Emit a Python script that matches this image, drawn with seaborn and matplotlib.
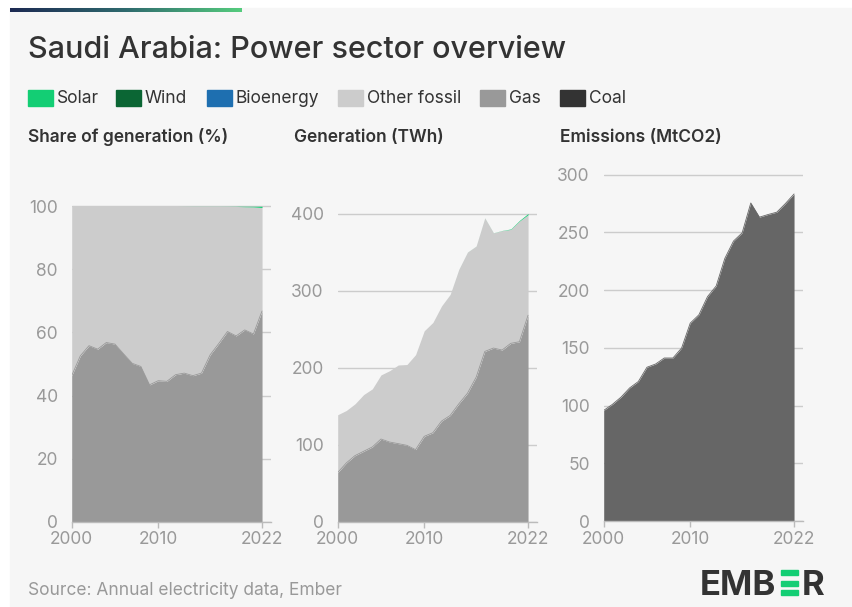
# Saudi Arabia power sector overview - three small area charts
import numpy as np
import pandas as pd
import matplotlib.pyplot as plt
import seaborn as sns
from matplotlib.patches import Rectangle
from matplotlib.colors import LinearSegmentedColormap

# Data
years = list(range(2000, 2023))

gas_share = [46.3, 52.6, 55.8, 54.7, 56.8, 56.3, 53.2, 50.2, 49.2, 43.4, 44.7, 44.5,
             46.6, 47.1, 46.3, 47.1, 52.9, 56.5, 60.3, 58.9, 60.8, 59.5, 66.8]
solar_share = [0, 0, 0, 0, 0, 0, 0, 0, 0, 0, 0, 0,
               0, 0.01, 0.02, 0.02, 0.02, 0.02, 0.03, 0.05, 0.15, 0.2, 0.4]

gas_twh = [63.8, 76.3, 85.8, 91.4, 97.0, 107.3, 103.4, 101.3, 99.1, 93.5, 110.8, 115.5,
           130.6, 137.9, 153.0, 166.8, 187.5, 221.0, 225.4, 222.8, 231.5, 233.6, 268.0]
total_twh = [138.8, 144.4, 153.0, 165.0, 172.4, 190.5, 196.0, 203.4, 204.0, 216.8, 247.8, 258.6,
             280.0, 295.0, 327.6, 350.0, 357.8, 394.4, 375.0, 378.0, 380.0, 391.0, 400.0]
solar_twh = [0, 0, 0, 0, 0, 0, 0, 0, 0, 0, 0, 0,
             0, 0.03, 0.05, 0.05, 0.05, 0.08, 0.1, 0.2, 0.6, 0.8, 1.5]

emissions = [95.8, 101.0, 107.3, 115.3, 120.8, 133.2, 136.0, 141.2, 141.2, 149.8, 171.4, 178.6,
             194.4, 203.6, 227.5, 242.5, 249.6, 275.5, 263.2, 265.5, 267.5, 275.0, 283.3]

legend_labels = ['Solar', 'Wind', 'Bioenergy', 'Other fossil', 'Gas', 'Coal']
legend_colors = ['#13ce74', '#0b6634', '#1e6fb0', '#cccccc', '#999999', '#333333']

share = pd.DataFrame({'year': years, 'gas': gas_share, 'solar': solar_share})
share['other'] = 100 - share['gas'] - share['solar']
gen = pd.DataFrame({'year': years, 'gas': gas_twh, 'total': total_twh, 'solar': solar_twh})
gen['other'] = gen['total'] - gen['gas'] - gen['solar']

sns.set_theme(style='white')
plt.rcParams['font.family'] = ['Inter', 'DejaVu Sans']

W, H = 853, 607
fig = plt.figure(figsize=(W / 100, H / 100), dpi=100, facecolor='white')


def fx(x):
    return x / W


def fy(y):
    return 1 - y / H


# card background and the gradient strip on top
fig.patches.append(Rectangle((fx(10), 0), fx(843), 1 - 8 / H, transform=fig.transFigure,
                             color='#f6f6f6', zorder=-10))
gax = fig.add_axes([fx(10), fy(12), fx(232), 4 / H])
grad = LinearSegmentedColormap.from_list('g', ['#1c2952', '#2f6a6e', '#55cc7e'])
gax.imshow(np.linspace(0, 1, 256)[None, :], cmap=grad, aspect='auto')
gax.axis('off')

fig.text(fx(28), fy(58), 'Saudi Arabia: Power sector overview', fontsize=22,
         color='#333333', weight='medium', va='baseline')

# legend
leg_x = [28, 116, 207, 338, 480, 560]
for lx, lab, col in zip(leg_x, legend_labels, legend_colors):
    fig.patches.append(Rectangle((fx(lx), fy(106)), fx(25), 16 / H, transform=fig.transFigure,
                                 color=col, zorder=2))
    fig.text(fx(lx + 29), fy(103), lab, fontsize=12.5, color='#333333', va='baseline')

# subtitles
for sx, sub in zip([28, 294, 560], ['Share of generation (%)', 'Generation (TWh)', 'Emissions (MtCO2)']):
    fig.text(fx(sx), fy(142.5), sub, fontsize=12.5, color='#333333', weight='semibold', va='baseline')


def style_axis(ax, top, ticks):
    ax.set_facecolor('#f6f6f6')
    ax.set_xlim(2000, 2023)
    ax.set_ylim(0, top * 1.004)
    ax.set_yticks(ticks)
    ax.set_xticks([2000, 2010, 2022])
    ax.yaxis.grid(True, color='#cccccc', linewidth=1)
    ax.xaxis.grid(False)
    ax.set_axisbelow(True)
    sns.despine(ax=ax, left=True, top=True, right=True)
    ax.spines['bottom'].set_color('#bbbbbb')
    ax.spines['bottom'].set_linewidth(1)
    ax.tick_params(axis='x', length=4, width=1, color='#bbbbbb', labelcolor='#999999',
                   labelsize=12.5, pad=3, bottom=True)
    ax.tick_params(axis='y', length=0, labelcolor='#999999', labelsize=12.5, pad=10)
    ax.set_xlabel('')
    ax.set_ylabel('')


ax1 = fig.add_axes([fx(71.7), fy(521.7), fx(199), (521.7 - 205) / H])
ax1.stackplot(share['year'], share['gas'], share['other'], share['solar'],
              colors=['#999999', '#cccccc', '#13ce74'], linewidth=0)
sns.lineplot(x=share['year'], y=share['gas'], ax=ax1, color='#999999', linewidth=0.6)
style_axis(ax1, 100, [0, 20, 40, 60, 80, 100])

ax2 = fig.add_axes([fx(337.7), fy(521.7), fx(199), (521.7 - 212.3) / H])
ax2.stackplot(gen['year'], gen['gas'], gen['other'], gen['solar'],
              colors=['#999999', '#cccccc', '#13ce74'], linewidth=0)
sns.lineplot(x=gen['year'], y=gen['gas'], ax=ax2, color='#999999', linewidth=0.6)
style_axis(ax2, 400, [0, 100, 200, 300, 400])

ax3 = fig.add_axes([fx(603.7), fy(521), fx(199), (521 - 173.3) / H])
ax3.fill_between(years, emissions, color='#666666', linewidth=0)
sns.lineplot(x=years, y=emissions, ax=ax3, color='#666666', linewidth=0.6)
style_axis(ax3, 300, [0, 50, 100, 150, 200, 250, 300])

# footer
fig.text(fx(28), fy(595), 'Source: Annual electricity data, Ember', fontsize=12.5,
         color='#999999', va='baseline')
fig.text(fx(700), fy(595), 'EMB', fontsize=25, weight='bold', color='#333333', va='baseline')
for by in [570, 580.5, 590]:
    fig.patches.append(Rectangle((fx(781), fy(by + 5)), fx(17.5), 5 / H, transform=fig.transFigure,
                                 color='#13ce74', zorder=2))
fig.text(fx(802), fy(595), 'R', fontsize=25, weight='bold', color='#333333', va='baseline')

fig.savefig('out.png', dpi=100, facecolor='white')
